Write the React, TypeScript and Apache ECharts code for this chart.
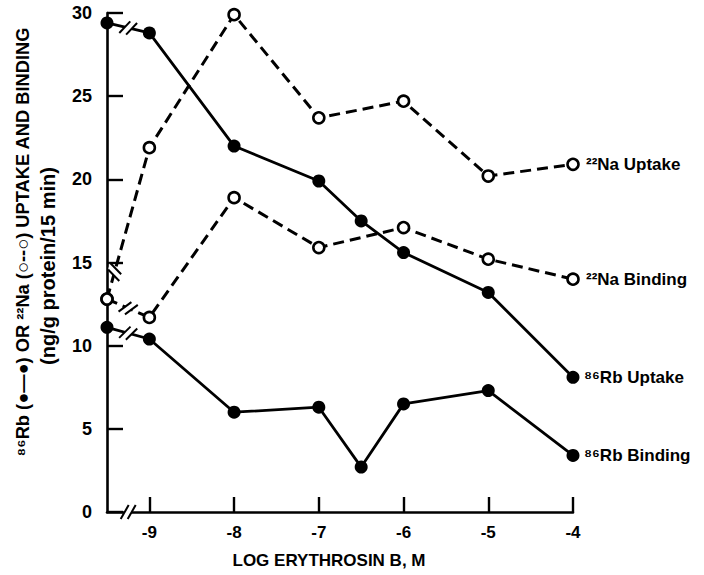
import React, { useEffect, useRef } from "react";
import * as echarts from "echarts";

const xRb = [-9.5, -9, -8, -7, -6.5, -6, -5, -4];
const rbUptake = [29.4, 28.8, 22.0, 19.9, 17.5, 15.6, 13.2, 8.1];
const rbBinding = [11.1, 10.4, 6.0, 6.3, 2.7, 6.5, 7.3, 3.4];
const xNa = [-9.5, -9, -8, -7, -6, -5, -4];
const naUptake = [12.8, 21.9, 29.9, 23.7, 24.7, 20.2, 20.9];
const naBinding = [12.8, 11.7, 18.9, 15.9, 17.1, 15.2, 14.0];
const xTickValues = [-9, -8, -7, -6, -5, -4];
const seriesNames = ["²²Na Uptake", "²²Na Binding", "⁸⁶Rb Uptake", "⁸⁶Rb Binding"];
const yTitle1 = "⁸⁶Rb (●—●) OR ²²Na (○--○) UPTAKE AND BINDING";
const yTitle2 = "(ng/g protein/15 min)";
const xTitle = "LOG ERYTHROSIN B, M";

const FONT = "'Liberation Sans', Arial, Helvetica, sans-serif";

function pair(xs: number[], ys: number[]) {
  return xs.map((x, i) => [x, ys[i]]);
}

export default function App() {
  const ref = useRef<HTMLDivElement>(null);
  useEffect(() => {
    if (!ref.current) return;
    const chart = echarts.init(ref.current, null, { renderer: "svg" });
    const endLabel = (name: string, distance: number) => ({
      show: true,
      formatter: () => name,
      distance,
      color: "#000",
      fontFamily: FONT,
      fontWeight: "bold",
      fontSize: 17,
    });
    const naStyle = (name: string, xs: number[], ys: number[]) => ({
      type: "line",
      name,
      data: pair(xs, ys),
      symbol: "circle",
      symbolSize: 11,
      lineStyle: { color: "#000", width: 3, type: [11, 6] },
      itemStyle: { color: "#fff", borderColor: "#000", borderWidth: 2.6 },
      endLabel: endLabel(name, 13),
      z: 3,
    });
    const rbStyle = (name: string, xs: number[], ys: number[]) => ({
      type: "line",
      name,
      data: pair(xs, ys),
      symbol: "circle",
      symbolSize: 13,
      lineStyle: { color: "#000", width: 2.8 },
      itemStyle: { color: "#000" },
      endLabel: endLabel(name, 11),
      z: 2,
    });
    chart.setOption({
      animation: false,
      backgroundColor: "#fff",
      grid: { left: 107, right: 131, top: 13, bottom: 63, containLabel: false },
      xAxis: {
        type: "value",
        min: -9.5,
        max: -4,
        splitLine: { show: false },
        axisLine: { show: true, onZero: false, lineStyle: { color: "#000", width: 2.6 } },
        axisTick: {
          show: true,
          inside: true,
          length: 15,
          customValues: xTickValues,
          lineStyle: { color: "#000", width: 2.4 },
        },
        axisLabel: {
          customValues: xTickValues,
          color: "#000",
          fontFamily: FONT,
          fontWeight: "bold",
          fontSize: 17,
          margin: 12,
        },
        name: xTitle,
        nameLocation: "middle",
        nameGap: 40,
        nameTextStyle: {
          color: "#000",
          fontFamily: FONT,
          fontWeight: "bold",
          fontSize: 17,
          padding: [0, 22, 0, 0],
        },
      },
      yAxis: {
        type: "value",
        min: 0,
        max: 30,
        interval: 5,
        splitLine: { show: false },
        axisLine: { show: true, lineStyle: { color: "#000", width: 2.6 } },
        axisTick: { show: true, inside: true, length: 16, lineStyle: { color: "#000", width: 2.4 } },
        axisLabel: {
          color: "#000",
          fontFamily: FONT,
          fontWeight: "bold",
          fontSize: 18,
          margin: 15,
        },
      },
      series: [
        naStyle(seriesNames[0], xNa, naUptake),
        naStyle(seriesNames[1], xNa, naBinding),
        rbStyle(seriesNames[2], xRb, rbUptake),
        rbStyle(seriesNames[3], xRb, rbBinding),
      ],
    });

    const graphics: any[] = [];
    const breakMark = (a: number[], b: number[], t: number) => {
      const dx = b[0] - a[0];
      const dy = b[1] - a[1];
      const len = Math.hypot(dx, dy) || 1;
      const ux = dx / len;
      const uy = dy / len;
      const vx = 0.5 * ux + 0.866 * uy;
      const vy = -0.866 * ux + 0.5 * uy;
      const cx = a[0] + dx * t;
      const cy = a[1] + dy * t;
      const L = 8;
      const s = 3.5;
      const p1 = [cx - s * ux - L * vx, cy - s * uy - L * vy];
      const p2 = [cx - s * ux + L * vx, cy - s * uy + L * vy];
      const p3 = [cx + s * ux + L * vx, cy + s * uy + L * vy];
      const p4 = [cx + s * ux - L * vx, cy + s * uy - L * vy];
      graphics.push({
        type: "polygon",
        z: 100,
        shape: { points: [p1, p2, p3, p4] },
        style: { fill: "#fff", stroke: null },
      });
      graphics.push({
        type: "line",
        z: 101,
        shape: { x1: p1[0], y1: p1[1], x2: p2[0], y2: p2[1] },
        style: { stroke: "#000", lineWidth: 2 },
      });
      graphics.push({
        type: "line",
        z: 101,
        shape: { x1: p4[0], y1: p4[1], x2: p3[0], y2: p3[1] },
        style: { stroke: "#000", lineWidth: 2 },
      });
    };
    const toPx = (p: number[]) => chart.convertToPixel({ gridIndex: 0 }, p) as number[];
    const lines: [number[], number[]][] = [
      [xNa, naUptake],
      [xNa, naBinding],
      [xRb, rbUptake],
      [xRb, rbBinding],
    ] as any;
    lines.forEach(([xs, ys], i) => {
      const a = toPx([xs[0], ys[0]]);
      const b = toPx([xs[1], ys[1]]);
      breakMark(a, b, i === 0 ? 0.18 : 0.5);
    });
    const ax0 = toPx([xNa[0], 0]);
    const ax1 = toPx([xTickValues[0], 0]);
    breakMark(ax0, ax1, 0.5);

    graphics.push({
      type: "text",
      x: 22,
      y: 242,
      rotation: Math.PI / 2,
      z: 100,
      style: {
        text: yTitle1,
        fill: "#000",
        font: `bold 18.3px ${FONT}`,
        align: "center",
        verticalAlign: "middle",
      },
    });
    graphics.push({
      type: "text",
      x: 48,
      y: 266,
      rotation: Math.PI / 2,
      z: 100,
      style: {
        text: yTitle2,
        fill: "#000",
        font: `bold 20px ${FONT}`,
        align: "center",
        verticalAlign: "middle",
      },
    });
    chart.setOption({ graphic: graphics });
    return () => chart.dispose();
  }, []);
  return (
    <div
      ref={ref}
      style={{ position: "fixed", left: 0, top: 0, width: 704, height: 575 }}
    />
  );
}
